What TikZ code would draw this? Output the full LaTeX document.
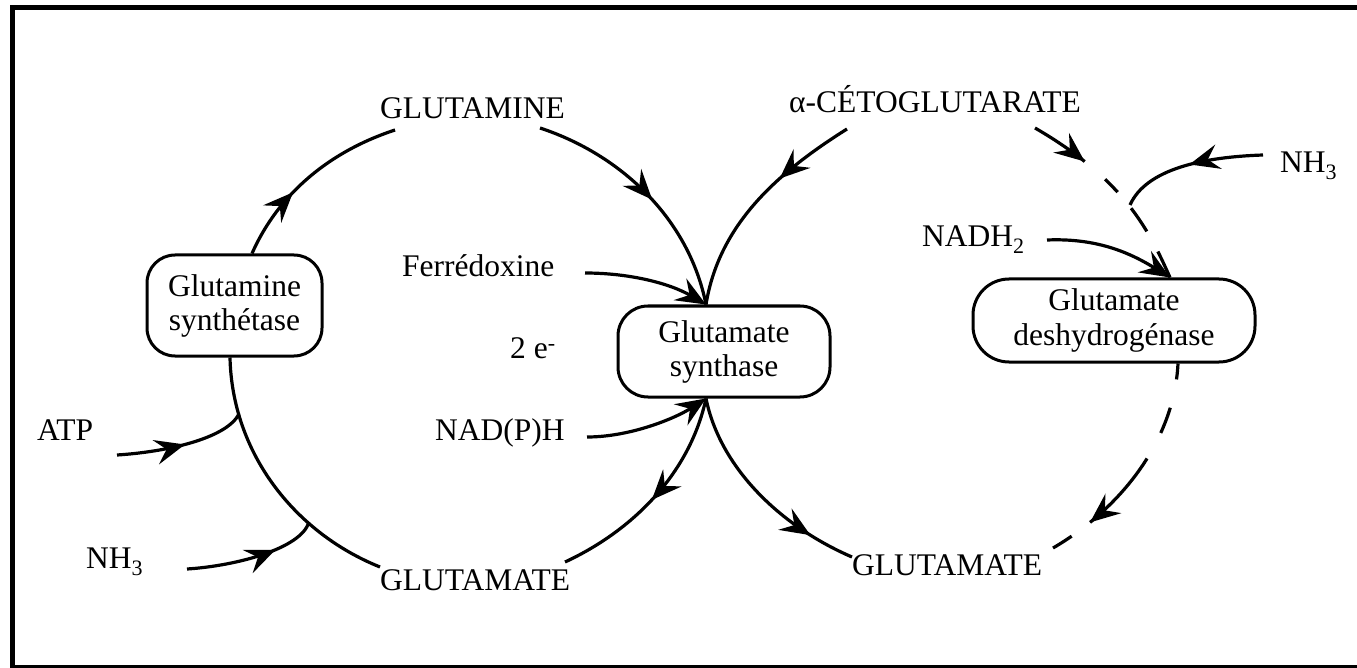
\documentclass[tikz,border=0pt]{standalone}
\usepackage{fontspec}
\setmainfont{Liberation Serif}
\usetikzlibrary{arrows.meta,decorations.markings,calc}
\newcommand\lowsub[1]{\raisebox{-7pt}{\fontsize{22}{22}\selectfont #1}}
\newcommand\hisup[1]{\raisebox{8pt}{\fontsize{22}{22}\selectfont #1}}
\tikzset{
  MyTip/.tip={Stealth[length=30pt,width=25pt,inset=11pt]},
  lbl/.style={anchor=base west},
  enz/.style={draw, line width=3pt, rounded corners=28pt, align=center},
  link/.style={line width=3.2pt},
  marr/.style={postaction={decorate}, decoration={markings, mark=at position #1 with {\arrow{MyTip}}}},
}
\begin{document}
\begin{tikzpicture}[x=1pt,y=-1pt,
  every node/.style={font=\fontsize{31.5}{34}\selectfont, inner sep=0pt}]
\useasboundingbox (0,0) rectangle (1357,668);
\fill[white] (0,0) rectangle (1357,668);
\draw[line width=5pt] (1362,8) -- (12,8) -- (12,667) -- (1362,667);

% labels
\node[lbl] (gln) at (380,119) {GLUTAMINE};
\node[lbl] (akg) at (789,113) {α-CÉTOGLUTARATE};
\node[lbl] (nh3r) at (1280,173) {NH\lowsub{3}};
\node[lbl] (fd) at (402,277) {Ferrédoxine};
\node[lbl] (nadh2) at (922,247) {NADH\lowsub{2}};
\node[lbl] (elec) at (510,358) {2 e\hisup{-}};
\node[lbl] (atp) at (37,440) {ATP};
\node[lbl] (nadph) at (435,440) {NAD(P)H};
\node[lbl] (nh3l) at (86,568) {NH\lowsub{3}};
\node[lbl] (glul) at (380,590) {GLUTAMATE};
\node[lbl] (glur) at (852,575) {GLUTAMATE};

% enzymes
\node[enz, minimum width=175pt, minimum height=101pt] (gs) at (234.5,305.5) {Glutamine\\synthétase};
\node[enz, minimum width=212pt, minimum height=91pt, rounded corners=30pt] (gogat) at (724,351.5) {Glutamate\\synthase};
\node[enz, minimum width=282pt, minimum height=83pt, rounded corners=36pt, font=\fontsize{31.5}{35}\selectfont] (gdh) at (1114,320.5) {Glutamate\\deshydrogénase};

% anchor points
\coordinate (gstop) at ($(gs.north)+(17.5,0)$);
\coordinate (gsbot) at ($(gs.south)+(-4.5,0)$);
\coordinate (gtop) at ($(gogat.north)+(-18,0)$);
\coordinate (gbot) at ($(gogat.south)+(-18,0)$);
\coordinate (dtop) at ($(gdh.north)+(56,0)$);
\coordinate (dbot) at ($(gdh.south)+(64,0)$);
\coordinate (glnL) at ($(gln.base west)+(15,11)$);
\coordinate (glnR) at ($(gln.base west)+(160,9)$);
\coordinate (akgL) at ($(akg.base west)+(58,16)$);
\coordinate (akgR) at ($(akg.base west)+(246,15)$);
\coordinate (glulL) at ($(glul.base west)+(0,-23)$);
\coordinate (glulR) at ($(glul.base west)+(185,-28)$);
\coordinate (glurL) at ($(glur.base west)+(0,-18)$);
\coordinate (glurR) at ($(glur.base west)+(201,-27)$);
\coordinate (j1) at (239,414);
\coordinate (j2) at (309,522);
\coordinate (j3) at (1130,205);

% left cycle
\draw[link, marr=0.38] (gstop) .. controls +(27,-61) and +(-64,21) .. (glnL);
\draw[link, marr=0.53] (glnR) .. controls +(82,27) and +(-17,-85) .. (gtop);
\draw[link] (gsbot) .. controls +(2,94) and +(-87,-35) .. (glulL);
\draw[link, marr=0.52] (gbot) .. controls +(-16,74) and +(69,-32) .. (glulR);
\draw[link, marr=0.52] ($(atp.base west)+(80,15)$) .. controls +(48,-3) and +(-13,25) .. (j1);
\draw[link, marr=0.67] ($(nh3l.base west)+(101,1)$) .. controls +(48,-3) and +(-8,27) .. (j2);
\draw[link, -{MyTip}] ($(fd.base west)+(183,-4)$) .. controls +(45,0) and +(-36,-21) .. (gtop);
\draw[link, -{MyTip}] ($(nadph.base west)+(152,-3)$) .. controls +(43,0) and +(-31,20) .. (gbot);

% right cycle
\draw[link, marr=0.36] (akgL) .. controls +(-70,44) and +(13,-80) .. (gtop);
\draw[link, marr=0.79] (gbot) .. controls +(14,69) and +(-72,-31) .. (glurL);
\draw[link, dash pattern=on 60pt off 27pt on 18pt off 21pt on 28pt off 23pt on 40pt, marr=60pt]
  (akgR) .. controls +(90,52) and +(-20.5,-46) .. (dtop);
\draw[link, dash pattern=on 16pt off 29pt on 27pt off 29pt on 86pt off 23pt on 40pt, marr=187pt]
  (dbot) .. controls +(-4,78) and +(67,-39) .. (glurR);
\draw[link, marr=0.5] ($(nh3r.base west)+(-17,-18)$) .. controls +(-60,2) and +(16,-36) .. (j3);
\draw[link, -{MyTip}] ($(nadh2.base west)+(125,-7)$) .. controls +(48,-2) and +(-42,-26) .. (dtop);
\end{tikzpicture}
\end{document}
